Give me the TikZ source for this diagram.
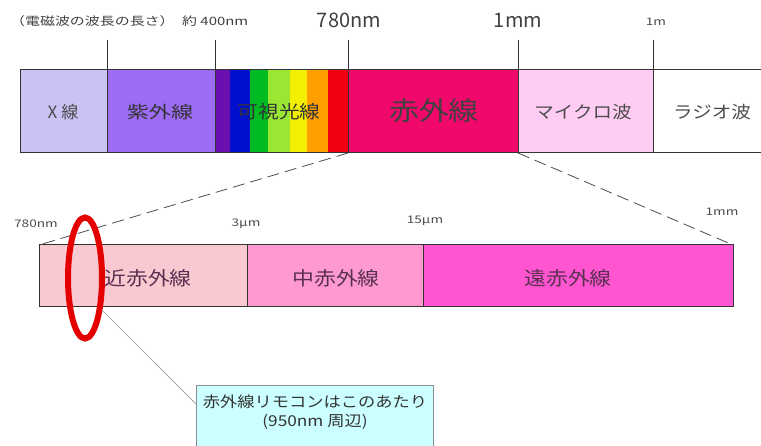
\documentclass[tikz,border=0pt]{standalone}
\usepackage{fontspec}
\setmainfont{Noto Sans CJK JP}
\newfontfamily\wideA[FakeStretch=1.15]{Noto Sans CJK JP}
\newfontfamily\wideB[FakeStretch=1.3]{Noto Sans CJK JP}
\usetikzlibrary{calc,shapes.geometric}
\definecolor{xray}{HTML}{C9C2F2}
\definecolor{uv}{HTML}{9C6CF4}
\definecolor{ir}{HTML}{F0086A}
\definecolor{micro}{HTML}{FFCCF4}
\definecolor{nir}{HTML}{F9C8D0}
\definecolor{mir}{HTML}{FF9AD0}
\definecolor{fir}{HTML}{FF55D0}
\definecolor{lowtxt}{HTML}{5A3050}
\definecolor{callfill}{HTML}{CCFFFF}
\definecolor{spA}{HTML}{6A10B0}
\definecolor{spB}{HTML}{0010CC}
\definecolor{spC}{HTML}{00BB22}
\definecolor{spD}{HTML}{99E633}
\definecolor{spE}{HTML}{F2F000}
\definecolor{spF}{HTML}{FFA000}
\definecolor{spG}{HTML}{F00010}
\begin{document}
\begin{tikzpicture}[x=1pt,y=-1pt,
  band/.style={draw=black!80,line width=1pt},
  tick/.style={draw=black!80,line width=0.9pt},
  toplbl/.style={font=\wideB\fontsize{11.5}{12}\selectfont,text=black!75},
  smalllbl/.style={font=\wideB\fontsize{10.5}{11}\selectfont,text=black!70},
  biglbl/.style={font=\fontsize{20}{22}\selectfont,text=black!75},
  barlbl/.style={font=\wideA\fontsize{17}{18}\selectfont,text=black!70},
  lowlbl/.style={font=\wideA\fontsize{19}{20}\selectfont,text=lowtxt},
  zoomline/.style={draw=black!70,dash pattern=on 12pt off 6pt,line width=0.8pt}]
\useasboundingbox (0,0) rectangle (761,446);
% top bar fills
\fill[xray] (20,70) rectangle (107,153);
\fill[uv] (107,70) rectangle (215,153);
\fill[spA] (215,70) rectangle (230,153);
\fill[spB] (230,70) rectangle (250,153);
\fill[spC] (250,70) rectangle (268,153);
\fill[spD] (268,70) rectangle (290,153);
\fill[spE] (290,70) rectangle (307,153);
\fill[spF] (307,70) rectangle (328,153);
\fill[spG] (328,70) rectangle (348,153);
\fill[ir] (348,70) rectangle (518,153);
\fill[micro] (518,70) rectangle (653,153);
\fill[white] (653,70) rectangle (761,153);
\draw[band] (20,70) -- (761,70) (20,153) -- (761,153) (20,70) -- (20,153);
\foreach \x in {107,215,348,518,653}{
  \draw[tick] (\x,40) -- (\x,153);}
\coordinate (topL) at (348,153);
\coordinate (topR) at (518,153);
% top labels
\node[toplbl,anchor=west,inner sep=0pt] (hdr) at (10,21) {（電磁波の波長の長さ）};
\node[toplbl,anchor=west,inner sep=0pt] (l400) at (182,21) {約 400nm};
\node[biglbl] (l780) at (349,20) {780nm};
\node[biglbl] (l1mm) at (518,20) {1mm};
\node[smalllbl] (l1m) at (656,22) {1m};
% bar labels
\node[barlbl,font=\fontsize{17}{18}\selectfont] (xr) at (63,112) {X 線};
\node[barlbl,text=black!80,font=\wideB\fontsize{17}{18}\selectfont] (uvt) at (160,112) {紫外線};
\node[barlbl,text=black!80,font=\wideA\fontsize{18}{19}\selectfont] (vis) at (279,112) {可視光線};
\node[text=black!75,font=\wideA\fontsize{26}{28}\selectfont] (irt) at (434,111) {赤外線};
\node[barlbl] (mw) at (583,112) {マイクロ波};
\node[barlbl] (rw) at (712,112) {ラジオ波};
% lower bar
\fill[nir] (39,245) rectangle (247,307);
\fill[mir] (247,245) rectangle (423,307);
\fill[fir] (423,245) rectangle (733,307);
\draw[band] (39,245) rectangle (733,307);
\draw[band] (247,245) -- (247,307) (423,245) -- (423,307);
\coordinate (lowL) at (39,245);
\coordinate (lowR) at (733,245);
\node[lowlbl] (nirt) at (148,278) {近赤外線};
\node[lowlbl] (mirt) at (336,278) {中赤外線};
\node[lowlbl] (firt) at (568,278) {遠赤外線};
\node[smalllbl] (m780) at (36,224) {780nm};
\node[smalllbl] (m3) at (246,224) {3μm};
\node[smalllbl] (m15) at (425,221) {15μm};
\node[smalllbl] (m1mm) at (722,212) {1mm};
% zoom lines
\draw[zoomline] (topL) -- (lowL);
\draw[zoomline] (topR) -- (lowR);
% red ellipse
\node[draw=red!90!black,line width=6pt,ellipse,minimum width=34pt,minimum height=121pt,inner sep=0pt] (ring) at (85,278) {};
% callout
\node[draw=black!45,fill=callfill,line width=0.8pt,minimum width=237pt,minimum height=64pt,anchor=north west,inner sep=0pt] (call) at (196,385) {};
\node[font=\wideA\fontsize{15}{19}\selectfont,text=black!80,align=center,anchor=north] (calltxt) at (315,391) {赤外線リモコンはこのあたり\\(950nm 周辺)};
\coordinate (cl) at (196,404);
\draw[black!35,line width=0.8pt] (ring.-62) -- (cl);
\end{tikzpicture}
\end{document}
